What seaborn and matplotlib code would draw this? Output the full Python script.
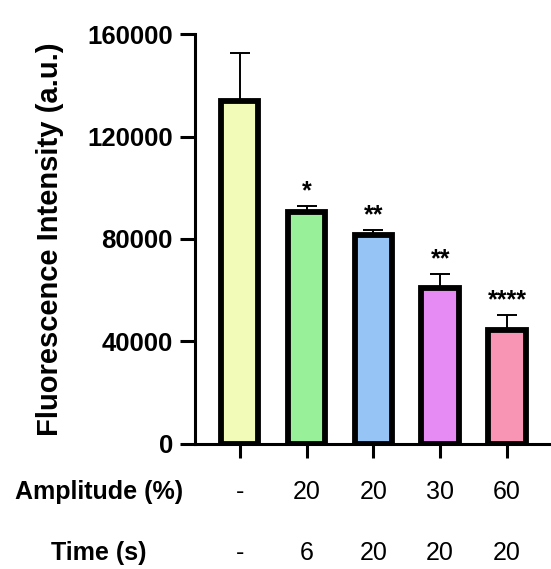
import numpy as np
import pandas as pd
import matplotlib
matplotlib.use("Agg")
import matplotlib.pyplot as plt
import matplotlib.transforms as mtransforms
import seaborn as sns

sns.set_theme(style="white")
plt.rcParams["font.family"] = ["Liberation Sans", "DejaVu Sans"]
plt.rcParams.update({"text.color": "black", "axes.labelcolor": "black",
                     "xtick.color": "black", "ytick.color": "black"})

groups = ["ctrl", "A20_T6", "A20_T20", "A30_T20", "A60_T20"]
means = [134000, 90500, 81500, 61000, 44500]
sd = [18500, 2400, 1900, 5200, 5700]
stars = ["", "*", "**", "**", "****"]
amplitude = ["-", "20", "20", "30", "60"]
time_s = ["-", "6", "20", "20", "20"]
colors = ["#f2fbb8", "#98f098", "#96c4f4", "#e68af4", "#f894b4"]

df = pd.DataFrame({"group": groups, "mean": means})

fig = plt.figure(figsize=(5.51, 5.69), dpi=100)
ax = fig.add_axes([0.354, 0.22, 0.646, 0.72])

sns.barplot(data=df, x="group", y="mean", hue="group", palette=colors,
            saturation=1, edgecolor="black", linewidth=4.2, width=0.56,
            legend=False, ax=ax)
ax.errorbar(range(len(groups)), means, yerr=[np.zeros(len(sd)), sd],
            fmt="none", ecolor="black", elinewidth=1.4, capsize=7, capthick=1.4,
            zorder=1)

for i, s in enumerate(stars):
    if s:
        ax.text(i, means[i] + sd[i] + 1000, s, ha="center", va="bottom",
                fontsize=18, fontweight="bold", color="black")

ax.set_ylim(0, 160000)
ax.set_xlim(-0.67, 4.66)
ax.set_yticks([0, 40000, 80000, 120000, 160000])
ax.set_yticklabels(["0", "40000", "80000", "120000", "160000"],
                   fontsize=18.5, fontweight="bold")
ax.set_xticks(range(len(groups)))
ax.set_xticklabels([""] * len(groups))
ax.tick_params(axis="y", direction="out", length=11, width=2.2, pad=5,
               color="black", labelcolor="black", left=True)
ax.tick_params(axis="x", direction="out", length=10, width=2.2,
               color="black", bottom=True)
for side in ["top", "right"]:
    ax.spines[side].set_visible(False)
for side in ["left", "bottom"]:
    ax.spines[side].set_linewidth(2.2)
    ax.spines[side].set_color("black")
ax.set_xlabel("")
ax.set_ylabel("Fluorescence Intensity (a.u.)", fontsize=21, fontweight="bold",
              color="black")
ax.yaxis.set_label_coords(-0.368, 0.5)

trans = mtransforms.blended_transform_factory(ax.transData, fig.transFigure)
for i in range(len(groups)):
    ax.text(i, 1 - 492 / 569, amplitude[i], transform=trans, ha="center",
            va="center", fontsize=18, color="black")
    ax.text(i, 1 - 553 / 569, time_s[i], transform=trans, ha="center",
            va="center", fontsize=18, color="black")
fig.text(0.18, 1 - 492 / 569, "Amplitude (%)", ha="center", va="center",
         fontsize=18, fontweight="bold", color="black")
fig.text(0.18, 1 - 553 / 569, "Time (s)", ha="center", va="center",
         fontsize=18, fontweight="bold", color="black")

fig.savefig("out.png", dpi=100)
